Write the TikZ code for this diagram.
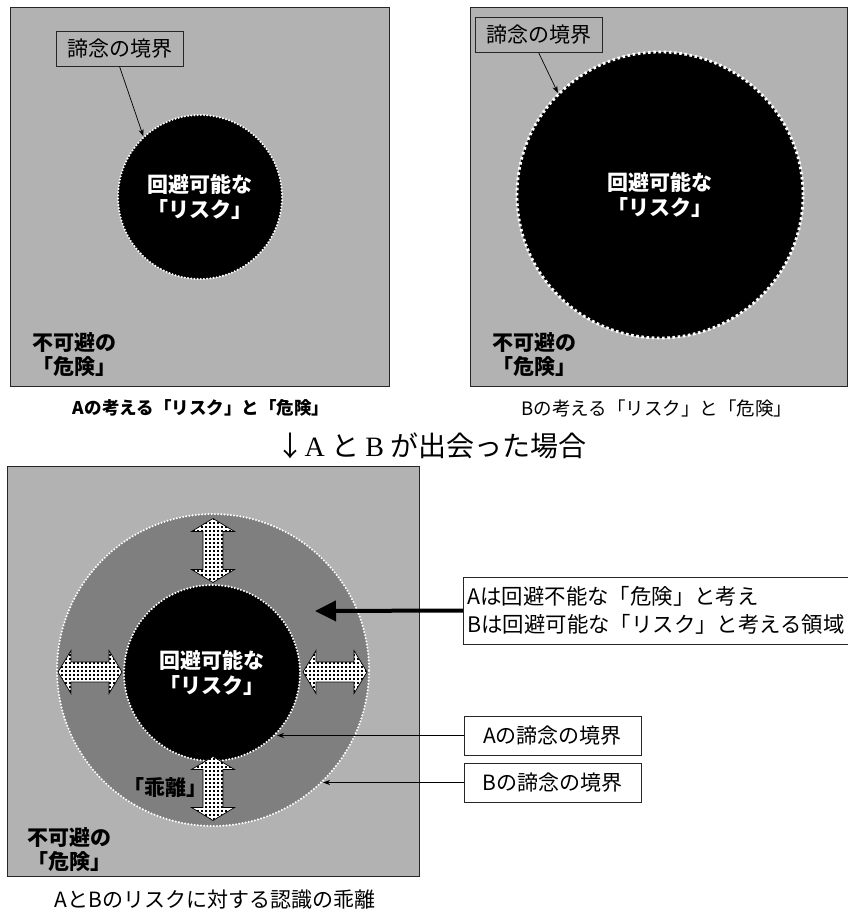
\documentclass[tikz,border=0pt]{standalone}
\usepackage{fontspec}
\setmainfont{Noto Sans CJK JP}
\newfontfamily\tms{Liberation Serif}
\usetikzlibrary{arrows.meta,patterns,patterns.meta}
\definecolor{lgray}{HTML}{B2B2B2}
\definecolor{dgray}{HTML}{7F7F7F}
\tikzdeclarepattern{
  name=mydots,
  type=uncolored,
  bottom left={(-.1pt,-.1pt)},
  top right={(4.1pt,4.1pt)},
  tile size={(4pt,4pt)},
  code={\fill (1.1pt,1.1pt) rectangle (2.9pt,2.9pt);}
}
\begin{document}
\begin{tikzpicture}[x=1pt,y=-1pt,
  panel/.style={fill=lgray, draw=black!85, line width=0.9pt},
  finedots/.style={draw=white, line width=2.3pt, line cap=round, dash pattern=on 0pt off 3.2pt},
  coarsedots/.style={draw=white, line width=2.8pt, dash pattern=on 2.6pt off 2.6pt},
  bf21/.style={font=\bfseries\fontsize{21}{24}\selectfont},
  rg21/.style={font=\fontsize{21.4}{28}\selectfont},
  lbl/.style={draw=black!85, line width=0.8pt, inner sep=0pt, font=\fontsize{21}{24}\selectfont},
  conn/.style={line width=0.7pt, -{Stealth[length=7pt,width=5pt]}},
  dbl/.pic={\path[fill=white, draw=black, line width=0.7pt, postaction={pattern=mydots, pattern color=black}]
     (0,-32) -- (21.5,-19) -- (10,-19) -- (10,19) -- (21.5,19) -- (0,32) -- (-21.5,19) -- (-10,19) -- (-10,-19) -- (-21.5,-19) -- cycle;}
]
\useasboundingbox (0,0) rectangle (848,913);

% ---------- Panel A ----------
\path[panel] (10,7) rectangle (389,386);
\node[circle, fill=black, finedots, minimum size=164pt, inner sep=0pt, text=white, align=center,
      font=\bfseries\fontsize{21}{25}\selectfont] (cA) at (200,197) {回避可能な\\「リスク」};
\node[lbl, fill=lgray, minimum width=127pt, minimum height=35pt] (l1) at (119.5,48.5) {諦念の境界};
\draw[conn] (l1.south) -- (cA.133);
\node[bf21, anchor=west, align=left, inner sep=0pt] (uA) at (32,355) {不可避の\\「危険」};
\node[font=\bfseries\fontsize{17.5}{20}\selectfont] (capA) at (201,408) {Aの考える「リスク」と「危険」};

% ---------- Panel B ----------
\path[panel] (470,7) rectangle (847.5,386);
\node[circle, fill=black, coarsedots, minimum size=286pt, inner sep=0pt, text=white, align=center,
      font=\bfseries\fontsize{21}{25}\selectfont] (cB) at (660,195) {回避可能な\\「リスク」};
\node[lbl, fill=lgray, minimum width=127pt, minimum height=35pt] (l2) at (538.5,34.5) {諦念の境界};
\draw[conn] (l2.south) -- (cB.135);
\node[bf21, anchor=west, align=left, inner sep=0pt] (uB) at (492,355) {不可避の\\「危険」};
\node[font=\fontsize{18.5}{20}\selectfont] (capB) at (657,408) {Bの考える「リスク」と「危険」};

% ---------- Middle ----------
\node[font=\fontsize{28}{30}\selectfont, inner sep=0pt] (mid) at (431.5,446) {↓{\tms A} と {\tms B} が出会った場合};

% ---------- Panel C ----------
\path[panel] (7,466) rectangle (419,876);
\node[circle, fill=dgray, finedots, minimum size=312pt, inner sep=0pt] (cBo) at (213,670) {};
\node[circle, fill=black, finedots, minimum size=176pt, inner sep=0pt, text=white, align=center,
      font=\bfseries\fontsize{21}{25}\selectfont] (cAi) at (212,673) {回避可能な\\「リスク」};
\node[bf21, inner sep=0pt] (gap) at (165,788) {「乖離」};
\pic at (213,550.5) {dbl};
\pic at (213,788.5) {dbl};
\pic[rotate=90] at (90,672) {dbl};
\pic[rotate=90] at (335,672) {dbl};
\node[bf21, anchor=west, align=left, inner sep=0pt] (uC) at (27,850) {不可避の\\「危険」};
\node[font=\fontsize{21}{24}\selectfont] (capC) at (215,900) {AとBのリスクに対する認識の乖離};

% ---------- Right labels ----------
\node[lbl, fill=white, rg21, anchor=west, align=left, minimum height=67pt, inner xsep=4pt] (bx) at (463,610.5)
  {Aは回避不能な「危険」と考え\\Bは回避可能な「リスク」と考える領域};
\coordinate (ringpt) at (315,611);
\draw[line width=4pt, -{Triangle[length=21pt,width=20pt]}] (bx.west) -- (ringpt);

\node[lbl, fill=white, minimum width=177pt, minimum height=39pt] (bA) at (552.5,735.5) {Aの諦念の境界};
\node[lbl, fill=white, minimum width=177pt, minimum height=39pt] (bB) at (552.5,782.5) {Bの諦念の境界};
\coordinate (tipA) at (277,735.5);
\coordinate (tipB) at (323,782.5);
\draw[conn] (bA.west) -- (tipA);
\draw[conn] (bB.west) -- (tipB);
\end{tikzpicture}
\end{document}
